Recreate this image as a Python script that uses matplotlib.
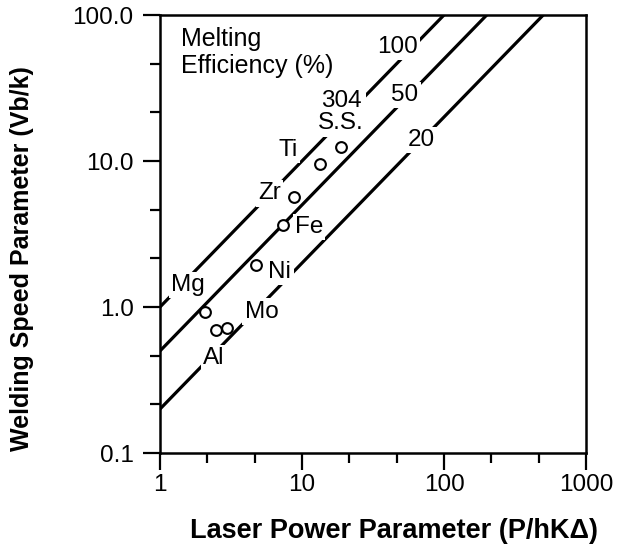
import numpy as np
import matplotlib
matplotlib.use("Agg")
import matplotlib.pyplot as plt
from matplotlib.ticker import FixedLocator, NullFormatter

plt.rcParams['font.family'] = ['Liberation Sans', 'DejaVu Sans']

# Melting efficiency lines (%): Vb/k = (eff/100) * P/hK
efficiencies = [100, 50, 20]
eff_label_x = [46.8, 53.0, 69.4]
eff_label_y = [60.7, 28.3, 13.9]

# Measured materials
materials = ["304\nS.S.", "Ti", "Zr", "Fe", "Ni", "Mg", "Al", "Mo"]
power_param = [18.7, 13.4, 8.77, 7.38, 4.74, 2.07, 2.48, 2.98]
speed_param = [12.5, 9.6, 5.69, 3.63, 1.93, 0.929, 0.696, 0.714]

# Label anchor positions (data coordinates)
label_x = [18.8, 8.0, 5.94, 11.2, 6.99, 1.58, 2.40, 5.19]
label_y = [21.5, 11.9, 6.0, 3.52, 1.75, 1.42, 0.445, 0.929]

x_ticks = [1, 10, 100, 1000]
x_ticklabels = ["1", "10", "100", "1000"]
y_ticks = [0.1, 1, 10, 100]
y_ticklabels = ["0.1", "1.0", "10.0", "100.0"]

fig = plt.figure(figsize=(6.18, 5.52), dpi=100)
ax = fig.add_axes([160 / 618, 1 - 453 / 552, 426 / 618, 438 / 552])
ax.set_xscale("log")
ax.set_yscale("log")
ax.set_xlim(1, 1000)
ax.set_ylim(0.1, 100)

xs = np.array([1.0, 1000.0])
for eff in efficiencies:
    ax.plot(xs, xs * eff / 100.0, color="black", lw=2.3, zorder=2,
            solid_capstyle="butt")

bbox = dict(facecolor="white", edgecolor="none", pad=1.5)
for eff, lx, ly in zip(efficiencies, eff_label_x, eff_label_y):
    ax.text(lx, ly, str(eff), fontsize=17.5, ha="center", va="center",
            bbox=bbox, zorder=3)

ax.scatter(power_param, speed_param, s=60, facecolor="white",
           edgecolor="black", linewidths=1.5, zorder=5)

for name, lx, ly in zip(materials, label_x, label_y):
    ax.text(lx, ly, name, fontsize=17.5, ha="center", va="center",
            linespacing=1.0, bbox=bbox, zorder=4)

ax.text(0.05, 0.972, "Melting\nEfficiency (%)", transform=ax.transAxes,
        fontsize=18, ha="left", va="top", linespacing=1.15)

ax.xaxis.set_major_locator(FixedLocator(x_ticks))
ax.set_xticklabels(x_ticklabels)
ax.yaxis.set_major_locator(FixedLocator(y_ticks))
ax.set_yticklabels(y_ticklabels)
ax.xaxis.set_minor_locator(FixedLocator([10 ** (k / 3) for k in range(10) if k % 3]))
ax.yaxis.set_minor_locator(FixedLocator([10 ** (k / 3 - 1) for k in range(10) if k % 3]))
ax.xaxis.set_minor_formatter(NullFormatter())
ax.yaxis.set_minor_formatter(NullFormatter())

ax.tick_params(axis="both", which="major", direction="out", length=12,
               width=1.6, labelsize=17.5)
ax.tick_params(axis="both", which="minor", direction="out", length=7,
               width=1.6)
ax.tick_params(axis="x", which="major", pad=3)
ax.tick_params(axis="y", which="major", pad=7)
for sp in ax.spines.values():
    sp.set_linewidth(1.8)

fig.text(394 / 618, 1 - 531 / 552, "Laser Power Parameter (P/hK\u0394)",
         fontsize=19.5, fontweight="bold", ha="center", va="center")
fig.text(22 / 618, 1 - 259 / 552, "Welding Speed Parameter (Vb/k)",
         fontsize=18, fontweight="bold", ha="center", va="center",
         rotation=90)

fig.savefig("out.png", dpi=100)
